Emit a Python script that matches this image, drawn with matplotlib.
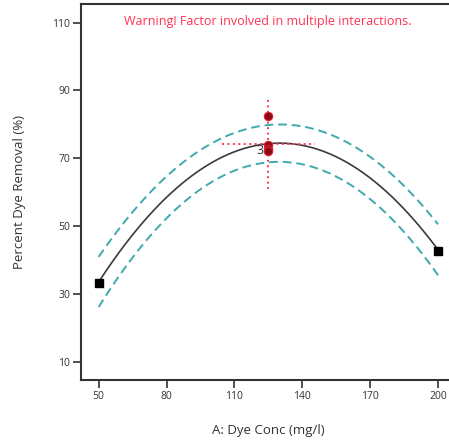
import numpy as np
import matplotlib
matplotlib.use("Agg")
import matplotlib.pyplot as plt

plt.rcParams['font.family'] = ['Open Sans', 'DejaVu Sans']

# design points (factor A) and observed responses
edge_x = [50, 200]
edge_y = [33.2, 42.7]
center_x = [125, 125, 125, 125]
center_y = [82.5, 74.0, 72.6, 72.2]
center_count_label = "3"

# model prediction and 95% CI half-width at low / center / high levels
level_x = [50, 125, 200]
pred_y = [33.5, 74.3, 43.0]
ci_half = [7.4, 5.5, 7.5]

# crosshair extents at the center point
cross_dx = 20.5
cross_dy = 13.5

xticks = [50, 80, 110, 140, 170, 200]
yticks = [10, 30, 50, 70, 90, 110]

fig = plt.figure(figsize=(4.49, 4.42), dpi=100)
ax = fig.add_axes([0.1804, 0.1403, 0.8330, 0.8507])

# quadratic through the three level values
pc = np.polyfit(level_x, pred_y, 2)
cc = np.polyfit(level_x, ci_half, 2)
xs = np.linspace(50, 200, 300)
ys = np.polyval(pc, xs)
hw = np.polyval(cc, xs)

teal = '#3fa9ad'
ax.plot(xs, ys, color='#3a3a3a', lw=1.2, zorder=3)
ax.plot(xs, ys + hw, color=teal, lw=1.4, ls=(0, (4.5, 2.5)), zorder=2)
ax.plot(xs, ys - hw, color=teal, lw=1.4, ls=(0, (4.5, 2.5)), zorder=2)

# red dotted crosshair at the center point
cx = level_x[1]
cy = np.polyval(pc, cx)
ax.plot([cx, cx], [cy - cross_dy, cy + cross_dy], color='#ff3b55', lw=1.4,
        ls=(0, (1, 1.8)), zorder=4)
ax.plot([cx - cross_dx, cx + cross_dx], [cy, cy], color='#ff3b55', lw=1.4,
        ls=(0, (1, 1.8)), zorder=4)

ax.plot(edge_x, edge_y, ls='none', marker='s', ms=6, color='black', zorder=5)
ax.plot(center_x, center_y, ls='none', marker='o', ms=6, mfc='#8b0a14',
        mec='#e0202e', mew=0.8, zorder=5)
ax.text(cx - 2.0, 72.3, center_count_label, ha='right', va='center',
        fontsize=9, color='#333333', zorder=6)

ax.text(0.5, 0.972, 'Warning! Factor involved in multiple interactions.',
        transform=ax.transAxes, ha='center', va='top', fontsize=9,
        color='#ff3050')

ax.set_xlim(42.2, 207.5)
ax.set_ylim(4.6, 115.5)
ax.set_xticks(xticks)
ax.set_yticks(yticks)
ax.tick_params(direction='out', length=6, width=1.2, labelsize=7.5,
               colors='#333333', pad=2)
for s in ax.spines.values():
    s.set_linewidth(1.5)
    s.set_color('#333333')

ax.set_xlabel('A: Dye Conc (mg/l)', fontsize=9.5, color='#333333', labelpad=16)
ax.set_ylabel('Percent Dye Removal (%)', fontsize=9.5, color='#333333', labelpad=19)

fig.savefig('out.png', dpi=100)
